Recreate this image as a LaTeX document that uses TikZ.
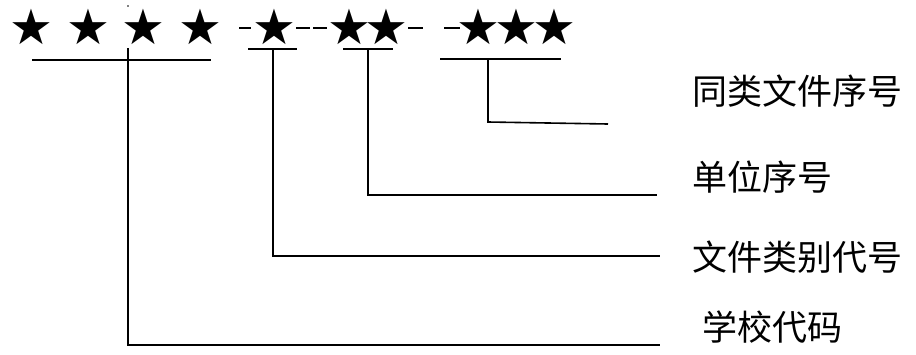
\documentclass[tikz,border=0pt]{standalone}
\usepackage{fontspec}
\newfontfamily\cjkfont{Noto Sans CJK SC}
\newfontfamily\symfont{DejaVu Sans}
\begin{document}
\begin{tikzpicture}[x=1pt,y=-1pt,
  starch/.style={inner sep=0pt,font=\symfont\fontsize{49}{49}\selectfont},
  label/.style={anchor=west,inner sep=0pt,font=\cjkfont\fontsize{35}{35}\selectfont},
  rule/.style={line width=1.6pt},
  dashmark/.style={line width=1.3pt}]
\useasboundingbox (0,0) rectangle (916,354);

% the code digits
\node[starch] (s1) at (31,27) {★};
\node[starch] (s2) at (88,27) {★};
\node[starch] (s3) at (143,27) {★};
\node[starch] (s4) at (200,27) {★};
\node[starch] (s5) at (274,27) {★};
\node[starch] (s6) at (349,27) {★};
\node[starch] (s7) at (386,27) {★};
\node[starch] (s8) at (478,27) {★};
\node[starch] (s9) at (516,27) {★};
\node[starch] (s10) at (554,27) {★};

% separators
\draw[dashmark] (239,28) -- (251,28);
\draw[dashmark] (296,28) -- (310,28);
\draw[dashmark] (313,28) -- (327,28);
\draw[dashmark] (408,28) -- (423,28);
\draw[dashmark] (444,28) -- (460,28);
\fill (128,6) circle (0.9);

% field names
\node[label] (n4) at (692,91) {同类文件序号};
\node[label] (n3) at (692,177) {单位序号};
\node[label] (n2) at (692,257) {文件类别代号};
\node[label] (n1) at (702,327) {学校代码};

% brackets under each field
\coordinate (u1a) at (32,60);  \coordinate (u1b) at (211,60);
\coordinate (u2a) at (248,49); \coordinate (u2b) at (297,49);
\coordinate (u3a) at (343,49); \coordinate (u3b) at (393,49);
\coordinate (u4a) at (440,59); \coordinate (u4b) at (561,59);
\draw[rule] (u1a) -- (u1b);
\draw[rule] (u2a) -- (u2b);
\draw[rule] (u3a) -- (u3b);
\draw[rule] (u4a) -- (u4b);

% leaders from each field to its name
\coordinate (t1) at (128,48);  \coordinate (e1) at (660,345);
\coordinate (t2) at (273,49);  \coordinate (e2) at (660,256);
\coordinate (t3) at (368,49);  \coordinate (e3) at (657,195);
\coordinate (t4) at (488,59);  \coordinate (k4) at (488,122); \coordinate (e4) at (608,124);
\draw[rule] (t1) |- (e1);
\draw[rule] (t2) |- (e2);
\draw[rule] (t3) |- (e3);
\draw[rule] (t4) -- (k4) -- (e4);
\end{tikzpicture}
\end{document}
